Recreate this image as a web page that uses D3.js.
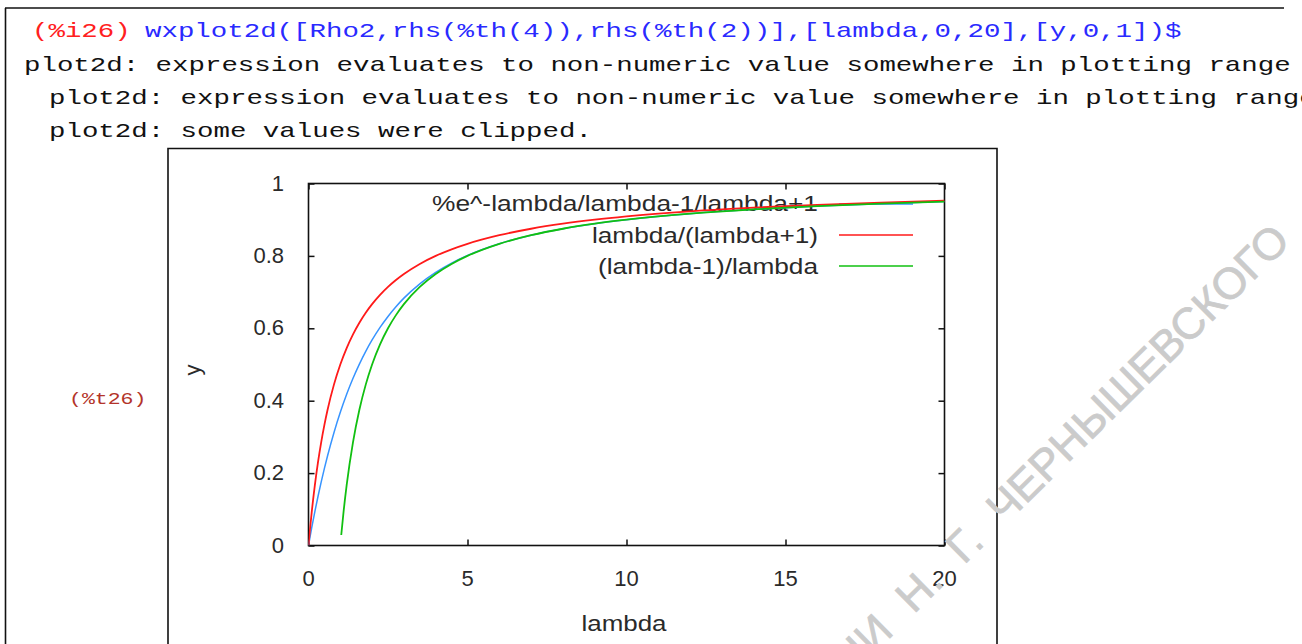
<!DOCTYPE html>
<html>
<head>
<meta charset="utf-8">
<script src="https://cdn.jsdelivr.net/npm/d3@7"></script>
<style>
  html, body { margin: 0; padding: 0; background: #fff; overflow: hidden; }
  svg { display: block; }
</style>
</head>
<body>
<svg id="sheet" width="1302" height="644"></svg>
<script>
// ---- sampled curves ----
const lambdaGrid = [0, 0.05, 0.1, 0.2, 0.3, 0.4, 0.5, 0.6, 0.8, 1, 1.2, 1.4, 1.6, 1.8, 2,
  2.25, 2.5, 2.75, 3, 3.5, 4, 4.5, 5, 6, 7, 8, 9, 10, 12, 14, 16, 18, 20];
// %e^-lambda/lambda-1/lambda+1
const rho2Values = [0, 0.0246, 0.0484, 0.0937, 0.1361, 0.1758, 0.2131, 0.2480, 0.3117, 0.3679,
  0.4177, 0.4619, 0.5012, 0.5363, 0.5677, 0.6024, 0.6328, 0.6596, 0.6833, 0.7229, 0.7546,
  0.7802, 0.8013, 0.8337, 0.8573, 0.8750, 0.8889, 0.9000, 0.9167, 0.9286, 0.9375, 0.9444, 0.9500];
// lambda/(lambda+1)
const ratioPlusValues = [0, 0.0476, 0.0909, 0.1667, 0.2308, 0.2857, 0.3333, 0.3750, 0.4444, 0.5000,
  0.5455, 0.5833, 0.6154, 0.6429, 0.6667, 0.6923, 0.7143, 0.7333, 0.7500, 0.7778, 0.8000,
  0.8182, 0.8333, 0.8571, 0.8750, 0.8889, 0.9000, 0.9091, 0.9231, 0.9333, 0.9412, 0.9474, 0.9524];
// (lambda-1)/lambda, defined from lambda = 1 on
const lambdaGridMinus = [1.03, 1.1, 1.2, 1.4, 1.6, 1.8, 2, 2.25, 2.5, 2.75, 3, 3.5, 4, 4.5, 5,
  6, 7, 8, 9, 10, 12, 14, 16, 18, 20];
const ratioMinusValues = [0.0291, 0.0909, 0.1667, 0.2857, 0.3750, 0.4444, 0.5000, 0.5556, 0.6000,
  0.6364, 0.6667, 0.7143, 0.7500, 0.7778, 0.8000, 0.8333, 0.8571, 0.8750, 0.8889, 0.9000,
  0.9167, 0.9286, 0.9375, 0.9444, 0.9500];

const seriesNames = ["%e^-lambda/lambda-1/lambda+1", "lambda/(lambda+1)", "(lambda-1)/lambda"];
const seriesColors = ["#3794ff", "#ff1a1a", "#11c011"];

const xTicks = [0, 5, 10, 15, 20];
const yTicks = [0, 0.2, 0.4, 0.6, 0.8, 1];
const xTitle = "lambda";
const yTitle = "y";

// ---- session text ----
const inputLabel = "(%i26)";
const inputCommand = "wxplot2d([Rho2,rhs(%th(4)),rhs(%th(2))],[lambda,0,20],[y,0,1])$";
const messages = [
  "plot2d: expression evaluates to non-numeric value somewhere in plotting range",
  "plot2d: expression evaluates to non-numeric value somewhere in plotting range",
  "plot2d: some values were clipped."
];
const outputLabel = "(%t26)";
const stampText = "ИМЕНИ Н. Г. ЧЕРНЫШЕВСКОГО";

const svg = d3.select("#sheet");
const MONO = "'Liberation Mono', 'Courier New', monospace";
const SANS = "'Liberation Sans', Arial, sans-serif";
const cell = 16.45; // monospace advance in the worksheet

// worksheet cell frame
svg.append("line").attr("x1", 5).attr("x2", 1284).attr("y1", 8).attr("y2", 8)
  .attr("stroke", "#111").attr("stroke-width", 1.6);
svg.append("line").attr("x1", 5.5).attr("x2", 5.5).attr("y1", 8).attr("y2", 644)
  .attr("stroke", "#111").attr("stroke-width", 1.6);

function mono(str, x, y, color, size, adv) {
  return svg.append("text")
    .attr("x", x).attr("y", y)
    .attr("font-family", MONO).attr("font-size", size)
    .attr("fill", color)
    .attr("textLength", str.length * adv)
    .attr("lengthAdjust", "spacingAndGlyphs")
    .style("white-space", "pre")
    .text(str);
}

mono(inputLabel, 32, 37, "#ff2020", 21, cell);
mono(inputCommand, 145, 37, "#2a2aff", 21, cell);
mono(messages[0], 24, 71, "#111", 21, cell);
mono(messages[1], 49, 104, "#111", 21, cell);
mono(messages[2], 49, 137, "#111", 21, cell);
mono(outputLabel, 69, 404, "#b3342a", 17, 12.9);

// plot frame
svg.append("path")
  .attr("d", "M168,644 L168,148.5 L997,148.5 L997,644")
  .attr("fill", "none").attr("stroke", "#111").attr("stroke-width", 1.6);

// ---- chart ----
const x = d3.scaleLinear().domain([0, 20]).range([308.5, 944.5]);
const y = d3.scaleLinear().domain([0, 1]).range([545.5, 183.5]);

const plot = svg.append("g");

// ticks (inward on all four sides)
const tick = 6;
const axB = plot.append("g").attr("transform", `translate(0,${y(0)})`)
  .call(d3.axisBottom(x).tickValues(xTicks).tickSize(-tick).tickPadding(0).tickFormat(""));
const axT = plot.append("g").attr("transform", `translate(0,${y(1)})`)
  .call(d3.axisTop(x).tickValues(xTicks).tickSize(-tick).tickFormat(""));
const axL = plot.append("g").attr("transform", `translate(${x(0)},0)`)
  .call(d3.axisLeft(y).tickValues(yTicks).tickSize(-tick).tickFormat(""));
const axR = plot.append("g").attr("transform", `translate(${x(20)},0)`)
  .call(d3.axisRight(y).tickValues(yTicks).tickSize(-tick).tickFormat(""));
[axB, axT, axL, axR].forEach(g => {
  g.select(".domain").remove();
  g.selectAll(".tick line").attr("stroke", "#111").attr("stroke-width", 1.5);
});

// tick labels
const labelSize = 22;
plot.selectAll("text.xl").data(xTicks).join("text").attr("class", "xl")
  .attr("x", d => x(d)).attr("y", 586)
  .attr("text-anchor", "middle")
  .attr("font-family", SANS).attr("font-size", labelSize).attr("fill", "#2a2a2a")
  .text(d => String(d));
plot.selectAll("text.yl").data(yTicks).join("text").attr("class", "yl")
  .attr("x", 284).attr("y", d => y(d) + 7)
  .attr("text-anchor", "end")
  .attr("font-family", SANS).attr("font-size", labelSize).attr("fill", "#2a2a2a")
  .text(d => d3.format("")(d));

// axis titles
plot.append("text").attr("x", 624).attr("y", 631).attr("text-anchor", "middle")
  .attr("font-family", SANS).attr("font-size", labelSize).attr("fill", "#2a2a2a")
  .text(xTitle);
plot.append("text").attr("transform", `translate(200,370) rotate(-90)`)
  .attr("text-anchor", "middle")
  .attr("font-family", SANS).attr("font-size", labelSize).attr("fill", "#2a2a2a")
  .text(yTitle);

// box
plot.append("rect")
  .attr("x", x(0)).attr("y", y(1))
  .attr("width", x(20) - x(0)).attr("height", y(0) - y(1))
  .attr("fill", "none").attr("stroke", "#111").attr("stroke-width", 1.6);

// curves + key, each key sample drawn before its own curve
const series = [
  { xs: lambdaGrid, ys: rho2Values },
  { xs: lambdaGrid, ys: ratioPlusValues },
  { xs: lambdaGridMinus, ys: ratioMinusValues }
];
const line = d3.line().x(d => x(d[0])).y(d => y(d[1])).curve(d3.curveMonotoneX);
const keyRows = [203, 235, 266];
const keySampleRows = [204, 235, 266];
svg.append("clipPath").attr("id", "area").append("rect")
  .attr("x", x(0)).attr("y", y(1)).attr("width", x(20) - x(0)).attr("height", y(0) - y(1));

series.forEach((s, i) => {
  plot.append("text")
    .attr("x", 818).attr("y", keyRows[i] + 8)
    .attr("text-anchor", "end")
    .attr("font-family", SANS).attr("font-size", labelSize).attr("fill", "#2a2a2a")
    .text(seriesNames[i]);
  plot.append("line")
    .attr("x1", 839).attr("x2", 913).attr("y1", keySampleRows[i]).attr("y2", keySampleRows[i])
    .attr("stroke", seriesColors[i]).attr("stroke-width", 1.3);
  plot.append("path")
    .attr("d", line(d3.zip(s.xs, s.ys)))
    .attr("clip-path", "url(#area)")
    .attr("fill", "none").attr("stroke", seriesColors[i]).attr("stroke-width", i === 0 ? 1.5 : 1.8);
});

// fit key / label text widths
const widths = { "%e^-lambda/lambda-1/lambda+1": 386, "lambda/(lambda+1)": 226, "(lambda-1)/lambda": 220, "lambda": 85 };
plot.selectAll("text").each(function () {
  const t = d3.select(this).text();
  if (widths[t]) d3.select(this).attr("textLength", widths[t]).attr("lengthAdjust", "spacingAndGlyphs");
});

// university stamp across the sheet
svg.append("text")
  .attr("transform", "translate(1292,243) rotate(-44.5)")
  .attr("text-anchor", "end")
  .attr("font-family", SANS).attr("font-size", 44)
  .attr("word-spacing", 14)
  .attr("fill", "#cbcbcb").attr("stroke", "#cbcbcb").attr("stroke-width", 0.8)
  .text(stampText);
</script>
</body>
</html>
